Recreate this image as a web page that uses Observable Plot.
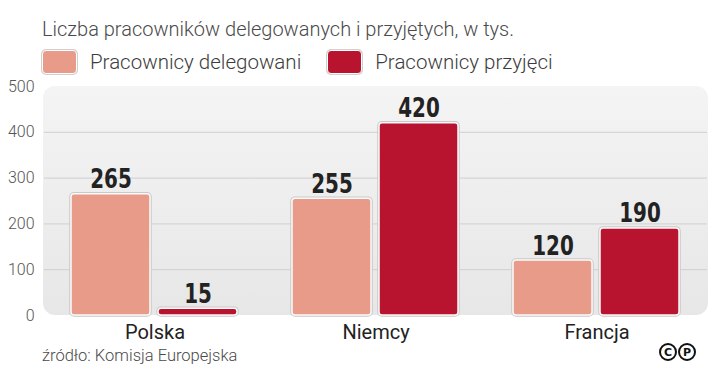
<!DOCTYPE html>
<html>
<head>
<meta charset="utf-8">
<script src="https://cdn.jsdelivr.net/npm/d3@7"></script>
<script src="https://cdn.jsdelivr.net/npm/@observablehq/plot@0.6"></script>
<style>
  html, body { margin: 0; padding: 0; background: #fff; }
  body { width: 720px; height: 378px; overflow: hidden; position: relative; font-family: Roboto, "Noto Sans", sans-serif; }
  #title { position: absolute; left: 42px; top: 19px; font-size: 20px; font-weight: 300; color: #4a4a4a; white-space: nowrap; line-height: 1; }
  #legend { position: absolute; left: 42px; top: 49px; height: 26px; display: flex; align-items: center; white-space: nowrap; }
  .item { display: flex; align-items: center; margin-right: 26px; }
  .sw { width: 33px; height: 22px; border-radius: 4px; border: 1.5px solid #fff; box-shadow: 0 0 0 1px #d0d0d0; margin-right: 13px; }
  .lt { font-size: 20.5px; font-weight: 300; color: #3c3c3c; }
  #chart { position: absolute; left: 0; top: 80px; }
  #source { position: absolute; left: 42px; top: 348px; font-size: 16.5px; font-weight: 300; color: #4a4a4a; white-space: nowrap; line-height: 1; }
  #logo { position: absolute; left: 659px; top: 343px; display: flex; }
  .circ { box-sizing: border-box; width: 18px; height: 18px; border: 2.6px solid #111; border-radius: 50%;
          display: flex; align-items: center; justify-content: center; font-size: 11px; font-weight: 900;
          color: #111; font-family: "DejaVu Sans", Roboto, sans-serif; line-height: 1; margin-right: 1px; }
  #chart svg g[aria-label^="y-axis"] text { font-size: 16px; fill: #555; font-weight: 300; }
  #chart svg g[aria-label^="fx-axis"] text { font-size: 20px; fill: #222; font-weight: 400; }
</style>
</head>
<body>
<div id="title"></div>
<div id="legend"></div>
<div id="chart"></div>
<div id="source"></div>
<div id="logo"><span class="circ">C</span><span class="circ">P</span></div>
<script>
const titleText = "Liczba pracowników delegowanych i przyjętych, w tys.";
const sourceText = "źródło: Komisja Europejska";
const categories = ["Polska", "Niemcy", "Francja"];
const seriesNames = ["Pracownicy delegowani", "Pracownicy przyjęci"];
const delegowani = [265, 255, 120];
const przyjeci = [15, 420, 190];
const yTicks = [0, 100, 200, 300, 400, 500];
const gridTicks = [100, 200, 300, 400];
const colors = ["#E89B89", "#B8132F"];

document.getElementById("title").textContent = titleText;
document.getElementById("source").textContent = sourceText;
const legend = document.getElementById("legend");
seriesNames.forEach((s, i) => {
  const it = document.createElement("div");
  it.className = "item";
  const sw = document.createElement("div");
  sw.className = "sw";
  sw.style.background = colors[i];
  const lt = document.createElement("span");
  lt.className = "lt";
  lt.textContent = s;
  it.appendChild(sw); it.appendChild(lt);
  legend.appendChild(it);
});

const data = categories.flatMap((c, i) => [
  {country: c, series: seriesNames[0], value: delegowani[i]},
  {country: c, series: seriesNames[1], value: przyjeci[i]}
]);

const plot = Plot.plot({
  width: 720,
  height: 262,
  marginLeft: 43,
  marginRight: 12,
  marginTop: 6,
  marginBottom: 27,
  style: {fontFamily: "Roboto, 'Noto Sans', sans-serif", background: "transparent", overflow: "visible"},
  facet: {data, x: "country"},
  fx: {domain: categories, padding: 0, label: null, axis: "bottom", tickSize: 0, tickPadding: 9},
  x: {domain: seriesNames, paddingInner: 0.09, paddingOuter: 0.305, axis: null},
  y: {domain: [0, 500], ticks: yTicks, label: null, tickSize: 0, tickPadding: 10},
  color: {domain: seriesNames, range: colors},
  marks: [
    Plot.ruleY(gridTicks, {stroke: "#cfcfcf", strokeWidth: 1}),
    Plot.barY(data, {x: "series", y: "value", fill: "series", rx: 3, stroke: "#c9c9c9", strokeWidth: 3.5}),
    Plot.barY(data, {x: "series", y: "value", fill: "series", rx: 3, stroke: "#fafafa", strokeWidth: 1.5}),
    Plot.text(data, {x: "series", y: "value", text: d => String(d.value), lineAnchor: "bottom", dy: -6,
      fontSize: 27, fontWeight: 700, fill: "#222",
      fontFamily: "'DejaVu Sans Condensed', Roboto, sans-serif"})
  ]
});

// background panel with gradient, built from the plot's scales
const svgNS = "http://www.w3.org/2000/svg";
const svg = plot.tagName.toLowerCase() === "svg" ? plot : plot.querySelector("svg");
const ys = plot.scale("y");
const y0 = ys.apply(0), y1 = ys.apply(500);
const defs = document.createElementNS(svgNS, "defs");
defs.innerHTML = '<linearGradient id="panelGrad" x1="0" y1="0" x2="0" y2="1"><stop offset="0" stop-color="#f4f4f4"/><stop offset="1" stop-color="#e7e7e7"/></linearGradient>';
const rect = document.createElementNS(svgNS, "rect");
rect.setAttribute("x", 43);
rect.setAttribute("width", 720 - 43 - 12);
rect.setAttribute("y", y1);
rect.setAttribute("height", y0 - y1);
rect.setAttribute("rx", 12);
rect.setAttribute("fill", "url(#panelGrad)");
const firstG = svg.querySelector("g");
svg.insertBefore(defs, svg.firstChild);
svg.insertBefore(rect, firstG);

// condense the value labels horizontally (typographic style only)
svg.querySelectorAll("g[aria-label='text'] text").forEach(t => {
  const x = +t.getAttribute("x") || 0;
  const prev = t.getAttribute("transform") || "";
  t.setAttribute("transform", `${prev} translate(${x},0) scale(0.82,1) translate(${-x},0)`);
});

document.getElementById("chart").appendChild(plot);
</script>
</body>
</html>
